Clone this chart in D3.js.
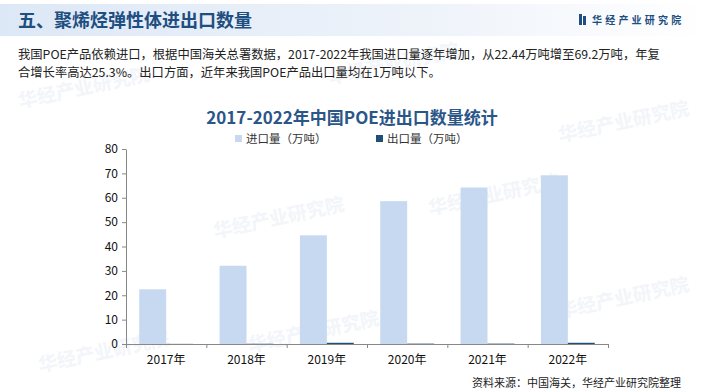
<!DOCTYPE html>
<html>
<head>
<meta charset="utf-8">
<script src="https://cdn.jsdelivr.net/npm/d3@7"></script>
<style>
  body { margin: 0; background: #fff; }
  text { font-family: "Noto Sans CJK SC", "Liberation Sans", sans-serif; }
</style>
</head>
<body>
<div id="chart"></div>
<script>
var years = ["2017年", "2018年", "2019年", "2020年", "2021年", "2022年"];
var importVals = [22.44, 32.1, 44.6, 58.6, 64.2, 69.2];
var exportVals = [0.05, 0.1, 0.5, 0.15, 0.15, 0.5];
var seriesNames = ["进口量（万吨）", "出口量（万吨）"];
var yTicks = [0, 10, 20, 30, 40, 50, 60, 70, 80];

var svgWidth = 705, svgHeight = 392;
var margin = { top: 149, right: 97, bottom: 48, left: 126 };
var width = svgWidth - margin.left - margin.right;
var height = svgHeight - margin.top - margin.bottom;

var svg = d3.select("#chart").append("svg")
  .attr("width", svgWidth)
  .attr("height", svgHeight);

// header band
var grad = svg.append("defs").append("linearGradient").attr("id", "hdr");
grad.append("stop").attr("offset", "0%").attr("stop-color", "#dde8f6");
grad.append("stop").attr("offset", "60%").attr("stop-color", "#eef3fa");
grad.append("stop").attr("offset", "100%").attr("stop-color", "#ffffff");
svg.append("rect").attr("x", 0).attr("y", 4).attr("width", svgWidth).attr("height", 32)
  .attr("fill", "url(#hdr)");

svg.append("text").attr("x", 18).attr("y", 27)
  .attr("font-size", 18).attr("font-weight", "bold").attr("fill", "#1f4e80")
  .text("五、聚烯烃弹性体进出口数量");

// logo
svg.append("rect").attr("x", 579).attr("y", 14).attr("width", 3).attr("height", 11).attr("fill", "#1f4e80");
svg.append("rect").attr("x", 583).attr("y", 16).attr("width", 3).attr("height", 9).attr("fill", "#1f4e80");
svg.append("text").attr("x", 592).attr("y", 24)
  .attr("font-size", 10).attr("font-weight", "bold").attr("fill", "#1f4e80")
  .attr("letter-spacing", 3.2)
  .text("华经产业研究院");

// watermarks
var marks = [[20, 108], [215, 238], [330, 84], [40, 372], [250, 352], [430, 215], [560, 142], [560, 318]];
marks.forEach(function(m) {
  svg.append("text").attr("x", m[0]).attr("y", m[1])
    .attr("transform", "rotate(-12," + m[0] + "," + m[1] + ")")
    .attr("font-size", 19).attr("font-weight", "bold")
    .attr("fill", "#e3e9f2").attr("opacity", 0.45)
    .text("华经产业研究院");
});

// paragraph
svg.append("text").attr("x", 18).attr("y", 59)
  .attr("font-size", 12.3).attr("fill", "#222")
  .text("我国POE产品依赖进口，根据中国海关总署数据，2017-2022年我国进口量逐年增加，从22.44万吨增至69.2万吨，年复");
svg.append("text").attr("x", 18).attr("y", 77)
  .attr("font-size", 12.3).attr("fill", "#222")
  .text("合增长率高达25.3%。出口方面，近年来我国POE产品出口量均在1万吨以下。");

// chart title
svg.append("text").attr("x", 352).attr("y", 124).attr("text-anchor", "middle")
  .attr("font-size", 17).attr("font-weight", "bold").attr("fill", "#2b5688")
  .text("2017-2022年中国POE进出口数量统计");

var colors = ["#c6d9f0", "#1f4e79"];

// legend
var legendX = [235, 376];
seriesNames.forEach(function(name, i) {
  svg.append("rect").attr("x", legendX[i]).attr("y", 135).attr("width", 7).attr("height", 7)
    .attr("fill", colors[i]);
  svg.append("text").attr("x", legendX[i] + 11).attr("y", 143)
    .attr("font-size", 11.5).attr("fill", "#333").text(name);
});

var chartGroup = svg.append("g")
  .attr("transform", `translate(${margin.left}, ${margin.top})`);

var x0 = d3.scaleBand().domain(years).range([0, width]).paddingInner(0.33).paddingOuter(0.165);
var x1 = d3.scaleBand().domain([0, 1]).range([0, x0.bandwidth()]);
var y = d3.scaleLinear().domain([0, 80]).range([height, 0]);

var data = years.map(function(yr, i) { return { year: yr, vals: [importVals[i], exportVals[i]] }; });

var groups = chartGroup.selectAll(".grp").data(data).enter().append("g")
  .attr("transform", d => `translate(${x0(d.year)},0)`);

groups.selectAll("rect").data(d => d.vals).enter().append("rect")
  .attr("x", (d, i) => x1(i))
  .attr("width", x1.bandwidth())
  .attr("y", d => y(d))
  .attr("height", d => height - y(d))
  .attr("fill", (d, i) => colors[i]);

// axes
var xTickScale = d3.scaleLinear().domain([0, years.length]).range([0, width]);
var leftAxis = d3.axisLeft(y).tickValues(yTicks).tickSize(4).tickSizeOuter(0);
var yAx = chartGroup.append("g").call(leftAxis);
yAx.select(".domain").attr("stroke", "#888");
yAx.selectAll(".tick line").attr("stroke", "#888");
yAx.selectAll(".tick text").attr("font-size", 12).attr("fill", "#111")
  .attr("font-family", "Liberation Sans, Arial, sans-serif").attr("x", -8);

var xAx = chartGroup.append("g").attr("transform", `translate(0, ${height})`)
  .call(d3.axisBottom(xTickScale).tickValues(d3.range(0, years.length + 1)).tickSize(4).tickFormat(""));
xAx.select(".domain").attr("stroke", "#888");
xAx.selectAll(".tick line").attr("stroke", "#888");

chartGroup.selectAll(".xlab").data(years).enter().append("text")
  .attr("x", d => x0(d) + x0.bandwidth() / 2)
  .attr("y", height + 20)
  .attr("text-anchor", "middle")
  .attr("font-size", 12).attr("fill", "#111")
  .text(d => d);

// source
svg.append("text").attr("x", 681).attr("y", 387).attr("text-anchor", "end")
  .attr("font-size", 11).attr("fill", "#222")
  .text("资料来源：中国海关，华经产业研究院整理");
</script>
</body>
</html>
